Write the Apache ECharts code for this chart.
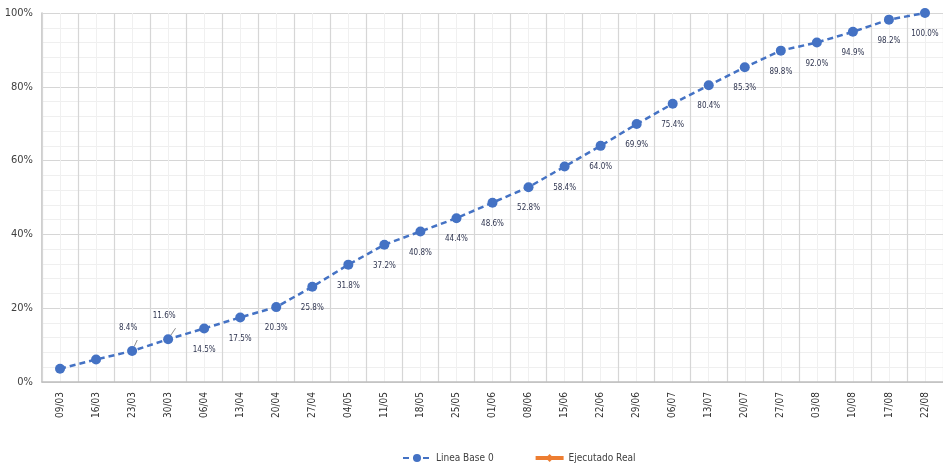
<!DOCTYPE html>
<html>
<head>
<meta charset="utf-8">
<script src="https://cdn.jsdelivr.net/npm/echarts@6/dist/echarts.min.js"></script>
<style>
  html, body { margin: 0; padding: 0; background: #ffffff; }
  #chart { width: 943px; height: 464px; }
</style>
</head>
<body>
<div id="chart"></div>
<script>
// Weekly cut-off dates
const categories = ['09/03','16/03','23/03','30/03','06/04','13/04','20/04','27/04','04/05','11/05',
  '18/05','25/05','01/06','08/06','15/06','22/06','29/06','06/07','13/07','20/07',
  '27/07','03/08','10/08','17/08','22/08'];

// Planned cumulative progress (%)
const lineaBase = [3.6, 6.1, 8.4, 11.6, 14.5, 17.5, 20.3, 25.8, 31.8, 37.2,
  40.8, 44.4, 48.6, 52.8, 58.4, 64.0, 69.9, 75.4, 80.4, 85.3,
  89.8, 92.0, 94.9, 98.2, 100.0];

// Actual executed progress (%) — not reported yet
const ejecutadoReal = [];

// Points whose value is not printed, and points labelled above with a guide line
const unlabelled = ['09/03', '16/03'];
const labelAbove = ['23/03', '30/03'];

const FONT = '"DejaVu Sans Condensed", "Liberation Sans Narrow", "Liberation Sans", sans-serif';
const BLUE = '#4472C4';
const ORANGE = '#ED7D31';

const baseData = lineaBase.map((v, i) => {
  const cat = categories[i];
  const item = { value: v };
  if (unlabelled.includes(cat)) {
    item.label = { show: false };
  } else if (labelAbove.includes(cat)) {
    item.label = { show: true, position: 'top', distance: 12, offset: [-4, -2] };
    item.labelLine = { show: true, lineStyle: { color: '#8c8c8c', width: 1 } };
  }
  return item;
});

const chart = echarts.init(document.getElementById('chart'), null, { renderer: 'canvas' });

chart.setOption({
  backgroundColor: '#ffffff',
  animation: false,
  grid: { left: 42, top: 13, width: 906, bottom: 82, containLabel: false },
  legend: {
    left: 397,
    top: 448,
    itemWidth: 28,
    itemHeight: 10,
    itemGap: 40,
    textStyle: { fontFamily: FONT, fontSize: 10, color: '#404040' },
    data: [
      { name: 'Linea Base 0' },
      { name: 'Ejecutado Real', lineStyle: { width: 4 } }
    ]
  },
  xAxis: [
    {
      type: 'category',
      data: categories,
      boundaryGap: true,
      axisLine: { show: true, lineStyle: { color: '#bfbfbf', width: 1.5 } },
      axisTick: { show: false },
      axisLabel: {
        rotate: 90,
        margin: 10,
        interval: 0,
        fontFamily: FONT,
        fontSize: 10,
        color: '#333333'
      },
      splitLine: { show: true, interval: 0, lineStyle: { color: '#d6d6d6', width: 1.2 } },
      z: 2
    },
    {
      // half-step helper axis: light lines through each category centre
      type: 'value',
      min: -0.5,
      max: 24.5,
      interval: 0.5,
      show: true,
      position: 'bottom',
      axisLine: { show: false },
      axisTick: { show: false },
      axisLabel: { show: false },
      splitLine: { show: true, lineStyle: { color: '#f0f0f0', width: 1 } },
      z: 0
    }
  ],
  yAxis: {
    type: 'value',
    min: 0,
    max: 100,
    interval: 20,
    axisLine: { show: true, onZero: false, lineStyle: { color: '#bfbfbf', width: 1.5 } },
    axisTick: { show: false },
    axisLabel: {
      formatter: '{value}%',
      margin: 9,
      fontFamily: FONT,
      fontSize: 11,
      color: '#404040'
    },
    splitLine: { show: true, lineStyle: { color: '#d6d6d6', width: 1.2 } },
    minorTick: { show: false, splitNumber: 5 },
    minorSplitLine: { show: true, lineStyle: { color: '#efefef', width: 1 } }
  },
  series: [
    {
      name: 'Linea Base 0',
      type: 'line',
      xAxisIndex: 0,
      data: baseData,
      symbol: 'circle',
      symbolSize: 10,
      itemStyle: { color: BLUE },
      lineStyle: { color: BLUE, width: 2.5, type: [6, 4] },
      label: {
        show: true,
        position: 'bottom',
        distance: 12,
        formatter: p => p.value.toFixed(1) + '%',
        fontFamily: FONT,
        fontSize: 8,
        color: '#2f3550'
      },
      z: 5
    },
    {
      name: 'Ejecutado Real',
      type: 'line',
      xAxisIndex: 0,
      data: ejecutadoReal,
      symbol: 'diamond',
      symbolSize: 8,
      itemStyle: { color: ORANGE },
      lineStyle: { color: ORANGE, width: 4 },
      z: 6
    }
  ]
});
</script>
</body>
</html>
